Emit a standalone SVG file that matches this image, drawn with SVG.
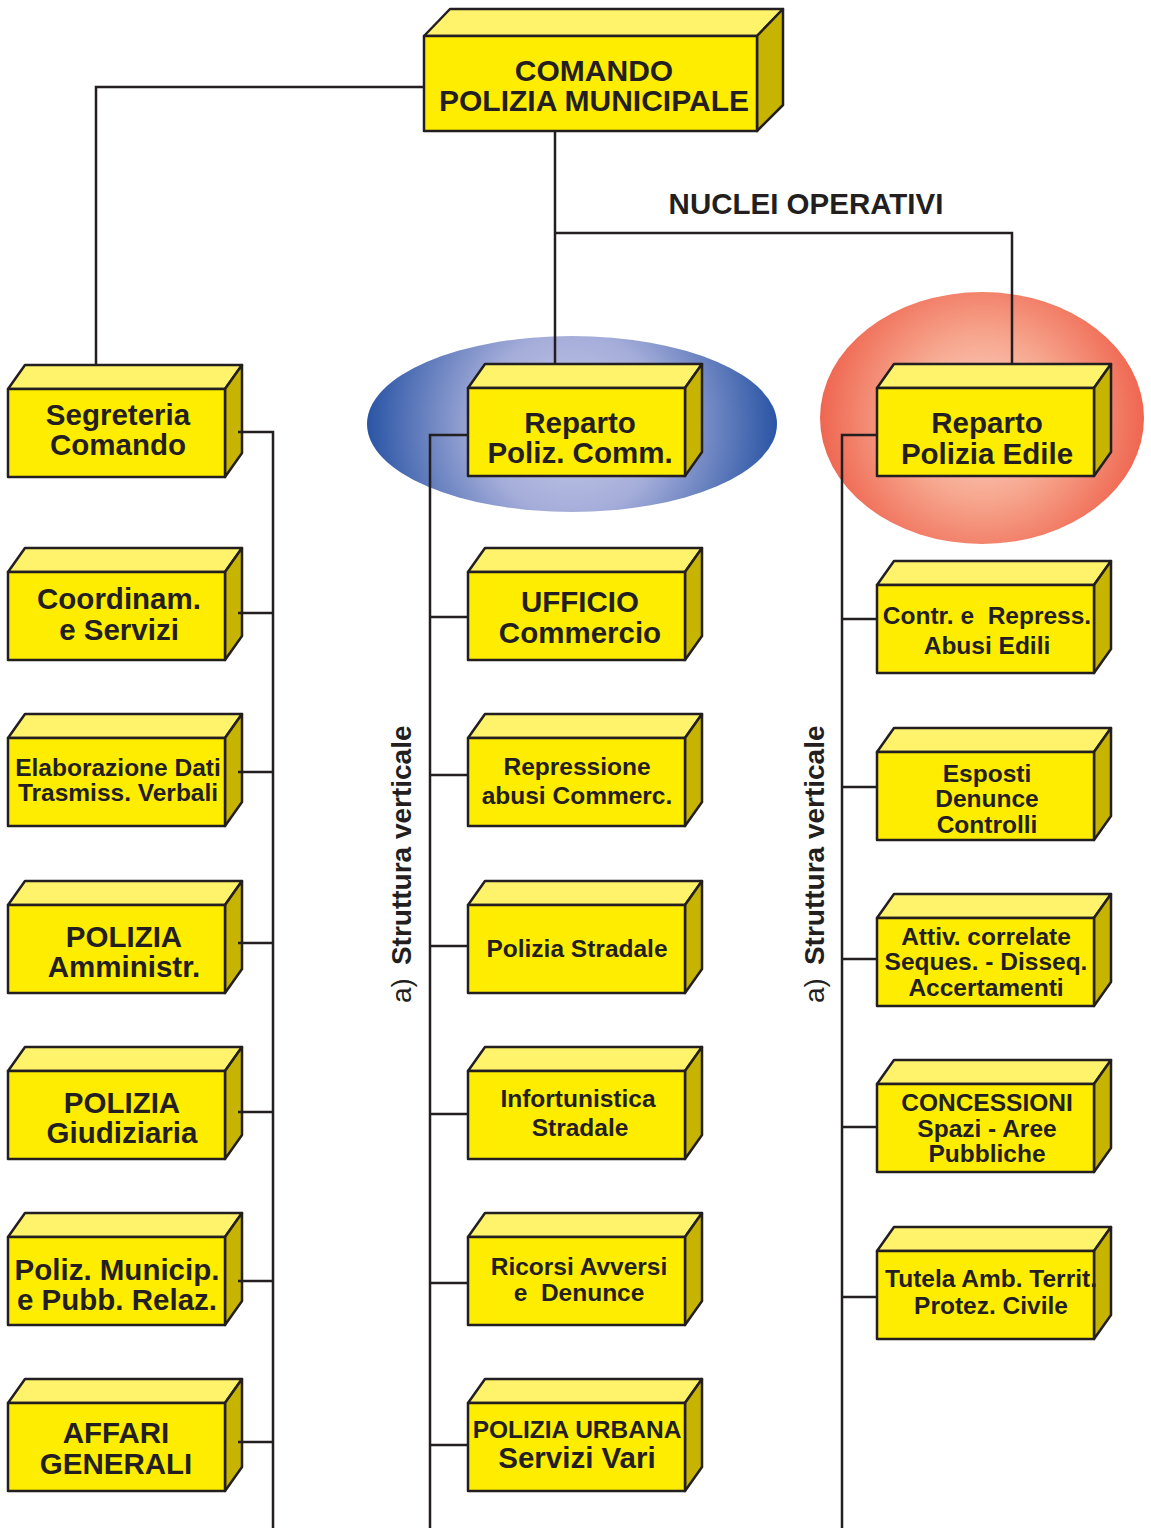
<svg xmlns="http://www.w3.org/2000/svg" xmlns:xlink="http://www.w3.org/1999/xlink" width="1151" height="1528" viewBox="0 0 1151 1528">
<style>
.fr{fill:#ffed00;stroke:#231f20;stroke-width:2.5;stroke-linejoin:round}
.tp{fill:#fff36b;stroke:#231f20;stroke-width:2.5;stroke-linejoin:round}
.sd{fill:#c6b400;stroke:#231f20;stroke-width:2.5;stroke-linejoin:round}
.t{font-family:"Liberation Sans",Arial,sans-serif;font-weight:bold;fill:#231f20;text-anchor:middle}
.L{font-size:29.5px}
.M{font-size:24.5px}
.c{fill:none;stroke:#231f20;stroke-width:2.5}
.lab{font-family:"Liberation Sans",Arial,sans-serif;font-size:28px;fill:#231f20}
</style>
<defs>
<radialGradient id="gBlue" gradientUnits="userSpaceOnUse" cx="572" cy="424" r="205">
<stop offset="0" stop-color="#c8cdea"/>
<stop offset="0.45" stop-color="#a4acd9"/>
<stop offset="1" stop-color="#2a55a5"/>
</radialGradient>
<radialGradient id="gRed" gradientUnits="userSpaceOnUse" cx="982" cy="418" r="162">
<stop offset="0" stop-color="#fcd6c9"/>
<stop offset="0.5" stop-color="#f7a78f"/>
<stop offset="1" stop-color="#ef6650"/>
</radialGradient>
<g id="box">
<polygon class="tp" points="0,24 17,0 234,0 217,24"/>
<polygon class="sd" points="217,24 234,0 234,88 217,112"/>
<rect class="fr" x="0" y="24" width="217" height="88"/>
</g>
</defs>

<g id="background">
<ellipse cx="572" cy="424" rx="205" ry="88" fill="url(#gBlue)"/>
<ellipse cx="982" cy="418" rx="162" ry="126" fill="url(#gRed)"/>
</g>

<g id="nodes">
<g id="comando">
<polygon class="tp" points="424,36 450,9 783,9 757,36"/>
<polygon class="sd" points="757,36 783,9 783,105 757,131"/>
<rect class="fr" x="424" y="36" width="333" height="95"/>
<text class="t" x="594" y="81" font-size="30">COMANDO</text>
<text class="t" x="594" y="111" font-size="30">POLIZIA MUNICIPALE</text>
</g>

<g id="segreteria"><use xlink:href="#box" x="8" y="365"/>
<text class="t L" x="118" y="425">Segreteria</text><text class="t L" x="118" y="455">Comando</text></g>
<g id="coordinam"><use xlink:href="#box" x="8" y="548"/>
<text class="t L" x="119" y="609">Coordinam.</text><text class="t L" x="119" y="640">e Servizi</text></g>
<g id="elaborazione"><use xlink:href="#box" x="8" y="714"/>
<text class="t M" x="118" y="776">Elaborazione Dati</text><text class="t M" x="118" y="801">Trasmiss. Verbali</text></g>
<g id="amministr"><use xlink:href="#box" x="8" y="881"/>
<text class="t L" x="124" y="947">POLIZIA</text><text class="t L" x="124" y="977">Amministr.</text></g>
<g id="giudiziaria"><use xlink:href="#box" x="8" y="1047"/>
<text class="t L" x="122" y="1113">POLIZIA</text><text class="t L" x="122" y="1143">Giudiziaria</text></g>
<g id="municip"><use xlink:href="#box" x="8" y="1213"/>
<text class="t L" x="117" y="1280">Poliz. Municip.</text><text class="t L" x="117" y="1310">e Pubb. Relaz.</text></g>
<g id="affari"><use xlink:href="#box" x="8" y="1379"/>
<text class="t L" x="116" y="1443">AFFARI</text><text class="t L" x="116" y="1474">GENERALI</text></g>

<g id="reparto-comm"><use xlink:href="#box" x="468" y="364"/>
<text class="t L" x="580" y="433">Reparto</text><text class="t L" x="580" y="463">Poliz. Comm.</text></g>
<g id="ufficio"><use xlink:href="#box" x="468" y="548"/>
<text class="t L" x="580" y="612">UFFICIO</text><text class="t L" x="580" y="643">Commercio</text></g>
<g id="repressione"><use xlink:href="#box" x="468" y="714"/>
<text class="t M" x="577" y="775">Repressione</text><text class="t M" x="577" y="804">abusi Commerc.</text></g>
<g id="stradale"><use xlink:href="#box" x="468" y="881"/>
<text class="t M" x="577" y="957">Polizia Stradale</text></g>
<g id="infortunistica"><use xlink:href="#box" x="468" y="1047"/>
<text class="t M" x="578" y="1107">Infortunistica</text><text class="t M" x="580" y="1136">Stradale</text></g>
<g id="ricorsi"><use xlink:href="#box" x="468" y="1213"/>
<text class="t M" x="579" y="1275">Ricorsi Avversi</text><text class="t M" x="579" y="1301" xml:space="preserve">e  Denunce</text></g>
<g id="urbana"><use xlink:href="#box" x="468" y="1379"/>
<text class="t M" x="577" y="1438">POLIZIA URBANA</text><text class="t L" x="577" y="1468">Servizi Vari</text></g>

<g id="reparto-edile"><use xlink:href="#box" x="877" y="364"/>
<text class="t L" x="987" y="433">Reparto</text><text class="t L" x="987" y="464">Polizia Edile</text></g>
<g id="contr"><use xlink:href="#box" x="877" y="561"/>
<text class="t M" x="987" y="624" xml:space="preserve">Contr. e  Repress.</text><text class="t M" x="987" y="654">Abusi Edili</text></g>
<g id="esposti"><use xlink:href="#box" x="877" y="728"/>
<text class="t M" x="987" y="782">Esposti</text><text class="t M" x="987" y="807">Denunce</text><text class="t M" x="987" y="833">Controlli</text></g>
<g id="attiv"><use xlink:href="#box" x="877" y="894"/>
<text class="t M" x="986" y="945">Attiv. correlate</text><text class="t M" x="986" y="970">Seques. - Disseq.</text><text class="t M" x="986" y="996">Accertamenti</text></g>
<g id="concessioni"><use xlink:href="#box" x="877" y="1060"/>
<text class="t M" x="987" y="1111">CONCESSIONI</text><text class="t M" x="987" y="1137">Spazi - Aree</text><text class="t M" x="987" y="1162">Pubbliche</text></g>
<g id="tutela"><use xlink:href="#box" x="877" y="1227"/>
<text class="t M" x="991" y="1287">Tutela Amb. Territ.</text><text class="t M" x="991" y="1314">Protez. Civile</text></g>
</g>

<g id="labels">
<text class="t" x="806" y="214" font-size="29.5">NUCLEI OPERATIVI</text>
<text class="lab" transform="translate(411,1003) rotate(-90)"><tspan>a)</tspan><tspan dx="13" font-weight="bold">Struttura verticale</tspan></text>
<text class="lab" transform="translate(824,1003) rotate(-90)"><tspan>a)</tspan><tspan dx="13" font-weight="bold">Struttura verticale</tspan></text>
</g>

<g id="connectors">
<polyline class="c" points="424,87 96,87 96,365"/>
<line class="c" x1="555" y1="131" x2="555" y2="364"/>
<polyline class="c" points="555,233 1012,233 1012,364"/>

<polyline class="c" points="238,432 273,432 273,1528"/>
<line class="c" x1="238" y1="613" x2="273" y2="613"/>
<line class="c" x1="238" y1="772" x2="273" y2="772"/>
<line class="c" x1="238" y1="943" x2="273" y2="943"/>
<line class="c" x1="238" y1="1112" x2="273" y2="1112"/>
<line class="c" x1="238" y1="1281" x2="273" y2="1281"/>
<line class="c" x1="238" y1="1442" x2="273" y2="1442"/>

<polyline class="c" points="468,435 430,435 430,1528"/>
<line class="c" x1="430" y1="617" x2="468" y2="617"/>
<line class="c" x1="430" y1="775" x2="468" y2="775"/>
<line class="c" x1="430" y1="946" x2="468" y2="946"/>
<line class="c" x1="430" y1="1114" x2="468" y2="1114"/>
<line class="c" x1="430" y1="1283" x2="468" y2="1283"/>
<line class="c" x1="430" y1="1445" x2="468" y2="1445"/>

<polyline class="c" points="877,435 842,435 842,1528"/>
<line class="c" x1="842" y1="619" x2="877" y2="619"/>
<line class="c" x1="842" y1="787" x2="877" y2="787"/>
<line class="c" x1="842" y1="959" x2="877" y2="959"/>
<line class="c" x1="842" y1="1127" x2="877" y2="1127"/>
<line class="c" x1="842" y1="1297" x2="877" y2="1297"/>
</g>
</svg>
